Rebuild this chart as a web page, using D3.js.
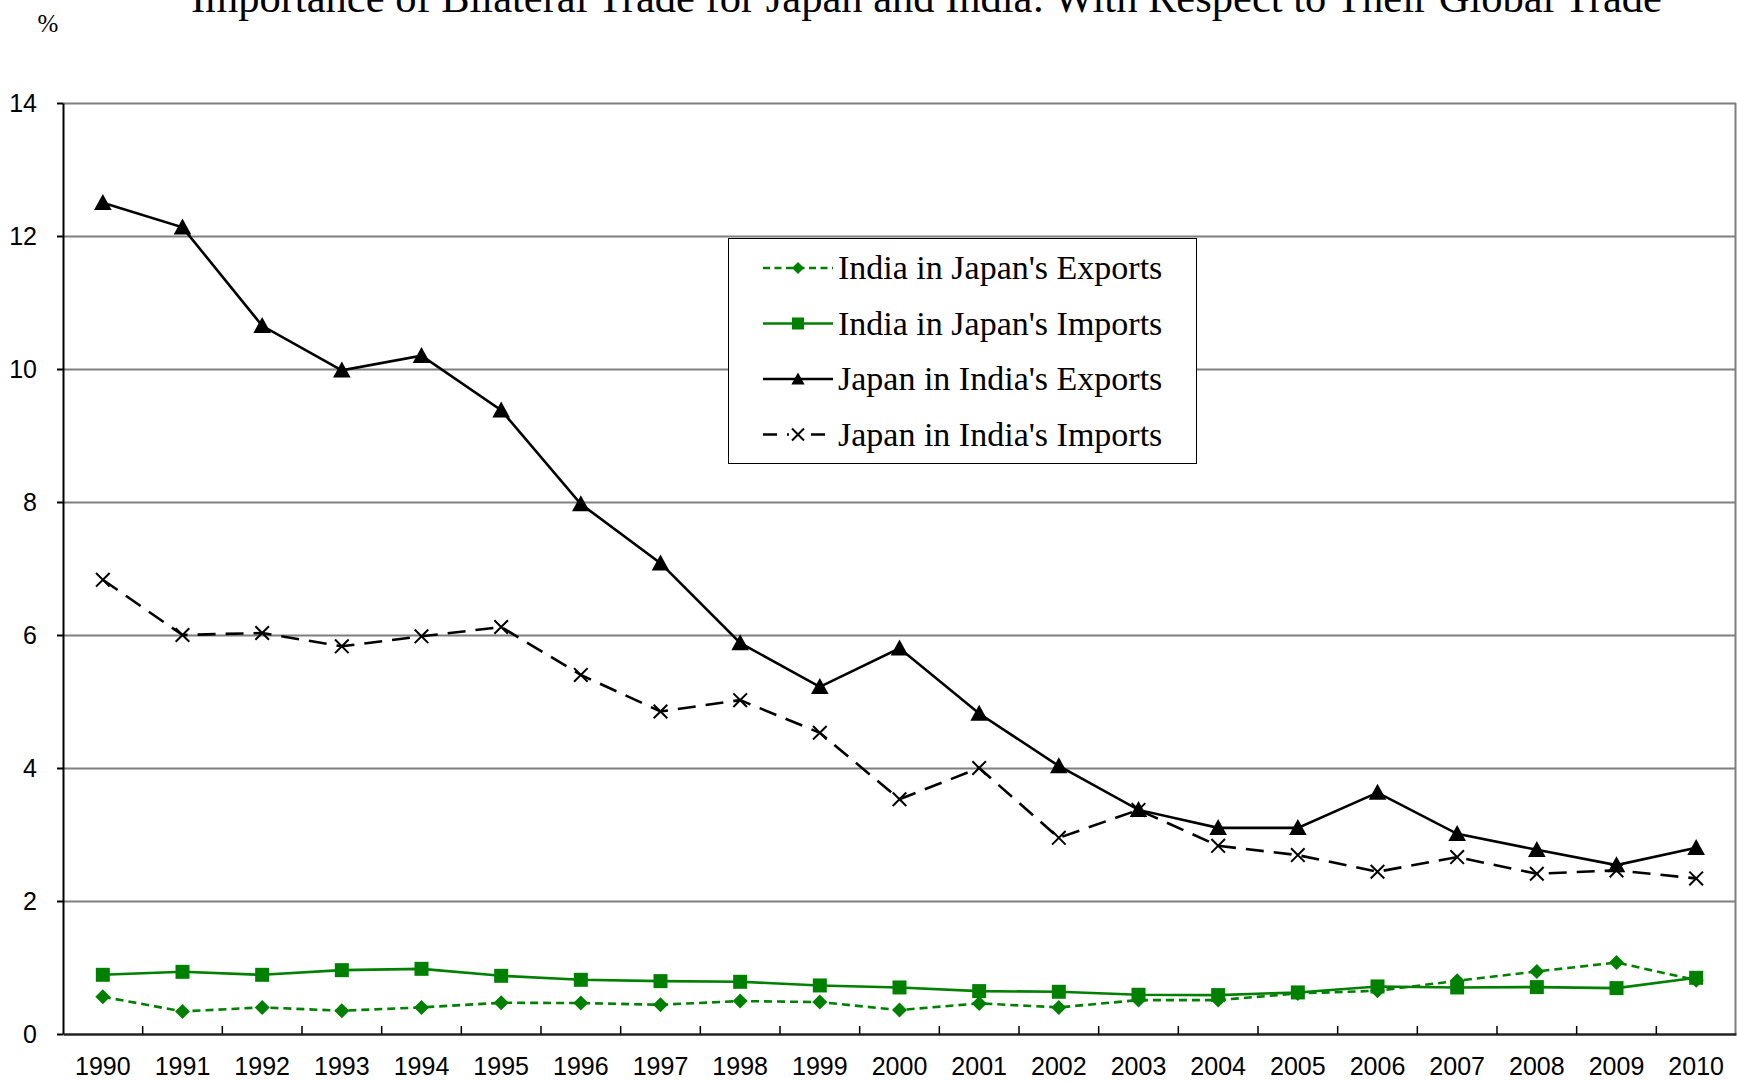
<!DOCTYPE html>
<html>
<head>
<meta charset="utf-8">
<script src="https://cdn.jsdelivr.net/npm/d3@7"></script>
<style>
  body { margin: 0; background: #fff; }
  svg { display: block; }
</style>
</head>
<body>
<div id="chart"></div>
<script>
//  data
const years = [1990, 1991, 1992, 1993, 1994, 1995, 1996, 1997, 1998, 1999, 2000,
               2001, 2002, 2003, 2004, 2005, 2006, 2007, 2008, 2009, 2010];
const indiaInJapanExports = [0.56, 0.34, 0.40, 0.35, 0.40, 0.47, 0.465, 0.44, 0.495, 0.48, 0.36,
                             0.46, 0.40, 0.51, 0.51, 0.61, 0.65, 0.80, 0.94, 1.075, 0.81];
const indiaInJapanImports = [0.89, 0.935, 0.89, 0.96, 0.98, 0.875, 0.815, 0.795, 0.785, 0.73, 0.70,
                             0.645, 0.635, 0.59, 0.585, 0.625, 0.715, 0.70, 0.705, 0.69, 0.845];
const japanInIndiaExports = [12.5, 12.13, 10.65, 9.98, 10.2, 9.38, 7.97, 7.08, 5.88, 5.22, 5.8,
                             4.82, 4.03, 3.37, 3.1, 3.1, 3.63, 3.01, 2.77, 2.54, 2.8];
const japanInIndiaImports = [6.83, 6.0, 6.03, 5.83, 5.98, 6.12, 5.4, 4.85, 5.02, 4.53, 3.53,
                             4.0, 2.95, 3.37, 2.83, 2.69, 2.44, 2.66, 2.41, 2.46, 2.34];
const seriesNames = ["India in Japan's Exports", "India in Japan's Imports",
                     "Japan in India's Exports", "Japan in India's Imports"];
const yTicks = [0, 2, 4, 6, 8, 10, 12, 14];
const title = "Importance of Bilateral Trade for Japan and India: With Respect to Their Global Trade";

//  main
function draw_chart() {
  const w = 1737
  const h = 1082
  const margin = ({top: 103, right: 1, bottom: 48, left: 63})

  const svg = d3.select("#chart").append("svg").attr("width", w).attr("height", h)

  const x = d3.scaleBand().domain(years).range([margin.left, w - margin.right])
  const y = d3.scaleLinear().domain([0, 14]).range([h - margin.bottom, margin.top])
  const cx = d => x(d) + x.bandwidth() / 2

  const series = [
    {name: seriesNames[0], values: indiaInJapanExports, color: "#008000", dash: "8,5", marker: "diamond"},
    {name: seriesNames[1], values: indiaInJapanImports, color: "#008000", dash: null, marker: "square"},
    {name: seriesNames[2], values: japanInIndiaExports, color: "#000", dash: null, marker: "triangle"},
    {name: seriesNames[3], values: japanInIndiaImports, color: "#000", dash: "18,10", marker: "cross"}
  ]

  //  gridlines
  svg.append("g")
    .attr("transform", `translate(${margin.left},0)`)
    .call(d3.axisLeft(y).tickValues(yTicks.filter(d => d > 0)).tickSize(-(w - margin.left - margin.right)).tickFormat(""))
    .call(g => g.select(".domain").remove())
    .call(g => g.selectAll(".tick line").attr("stroke", "#7f7f7f").attr("stroke-width", 2))

  //  right border
  svg.append("line")
    .attr("x1", w - margin.right - 0.5).attr("x2", w - margin.right - 0.5)
    .attr("y1", y(14)).attr("y2", y(0))
    .attr("stroke", "#7f7f7f").attr("stroke-width", 2)

  //  y axis
  svg.append("g")
    .attr("transform", `translate(${margin.left},0)`)
    .call(d3.axisLeft(y).tickValues(yTicks).tickSizeInner(6).tickSizeOuter(0).tickPadding(20))
    .call(g => g.select(".domain").attr("stroke", "#000").attr("stroke-width", 2))
    .call(g => g.selectAll(".tick line").attr("stroke", "#000").attr("stroke-width", 2))
    .call(g => g.selectAll("text").style("font-family", "Liberation Sans, Arial, sans-serif").style("font-size", "25px").attr("fill", "#000"))

  //  x axis
  svg.append("g")
    .attr("transform", `translate(0,${y(0)})`)
    .call(d3.axisBottom(x).tickSize(0).tickPadding(23))
    .call(g => g.select(".domain").attr("stroke", "#222").attr("stroke-width", 2.5))
    .call(g => g.selectAll("text").style("font-family", "Liberation Sans, Arial, sans-serif").style("font-size", "25px").attr("fill", "#000"))

  svg.append("g").selectAll("line").data(years.slice(1)).enter()
    .append("line")
    .attr("x1", d => x(d)).attr("x2", d => x(d))
    .attr("y1", y(0)).attr("y2", y(0) - 8)
    .attr("stroke", "#000").attr("stroke-width", 1.5)

  //  markers
  const marker = (g, type, color, size) => {
    if (type == "diamond") {
      g.append("path").attr("d", d3.symbol(d3.symbolSquare, size * size / 2)()).attr("transform", "rotate(45)").attr("fill", color)
    } else if (type == "square") {
      g.append("rect").attr("x", -size / 2).attr("y", -size / 2).attr("width", size).attr("height", size).attr("fill", color)
    } else if (type == "triangle") {
      g.append("path").attr("d", `M0,${-size * 0.55}L${size * 0.55},${size * 0.45}L${-size * 0.55},${size * 0.45}Z`).attr("fill", color)
    } else {
      const s = size * 0.4
      g.append("path").attr("d", `M${-s},${-s}L${s},${s}M${s},${-s}L${-s},${s}`).attr("stroke", color).attr("stroke-width", 2).attr("fill", "none")
    }
  }
  const markerSize = {diamond: 15, square: 14, triangle: 16, cross: 17}

  const line = d3.line().x((d, i) => cx(years[i])).y(d => y(d))

  series.forEach(s => {
    svg.append("path")
      .datum(s.values)
      .attr("d", line)
      .attr("fill", "none")
      .attr("stroke", s.color)
      .attr("stroke-width", 2.6)
      .attr("stroke-dasharray", s.dash)

    svg.append("g").selectAll("g").data(s.values).enter()
      .append("g")
      .attr("transform", (d, i) => `translate(${cx(years[i])},${y(d)})`)
      .each(function () { marker(d3.select(this), s.marker, s.color, markerSize[s.marker]) })
  })

  //  legend
  const lg = svg.append("g")
  lg.append("rect")
    .attr("x", 728.5).attr("y", 238.5).attr("width", 468).attr("height", 225)
    .attr("fill", "#fff").attr("stroke", "#000").attr("stroke-width", 1)

  series.forEach((s, i) => {
    const ly = 268 + i * 55.5
    lg.append("line")
      .attr("x1", 763).attr("x2", 833).attr("y1", ly).attr("y2", ly)
      .attr("stroke", s.color).attr("stroke-width", 2.6)
      .attr("stroke-dasharray", s.dash == null ? null : (i == 0 ? "7,4.5" : "14,10"))
    const m = lg.append("g").attr("transform", `translate(798,${ly})`)
    if (i == 3) m.append("rect").attr("x", -9).attr("y", -3).attr("width", 18).attr("height", 6).attr("fill", "#fff")
    marker(m, s.marker, s.color, s.marker == "cross" ? 15 : 12)
    lg.append("text")
      .attr("x", 838).attr("y", ly + 11)
      .style("font-family", "Liberation Serif, Times New Roman, serif")
      .style("font-size", "34px")
      .text(s.name)
  })

  //  title and unit
  svg.append("text")
    .attr("x", 191).attr("y", 12)
    .style("font-family", "Liberation Serif, Times New Roman, serif")
    .style("font-size", "42.5px")
    .text(title)

  svg.append("text")
    .attr("x", 48).attr("y", 32)
    .attr("text-anchor", "middle")
    .style("font-family", "Liberation Serif, Times New Roman, serif")
    .style("font-size", "25px")
    .text("%")

  return svg.node()
}

draw_chart();
</script>
</body>
</html>
